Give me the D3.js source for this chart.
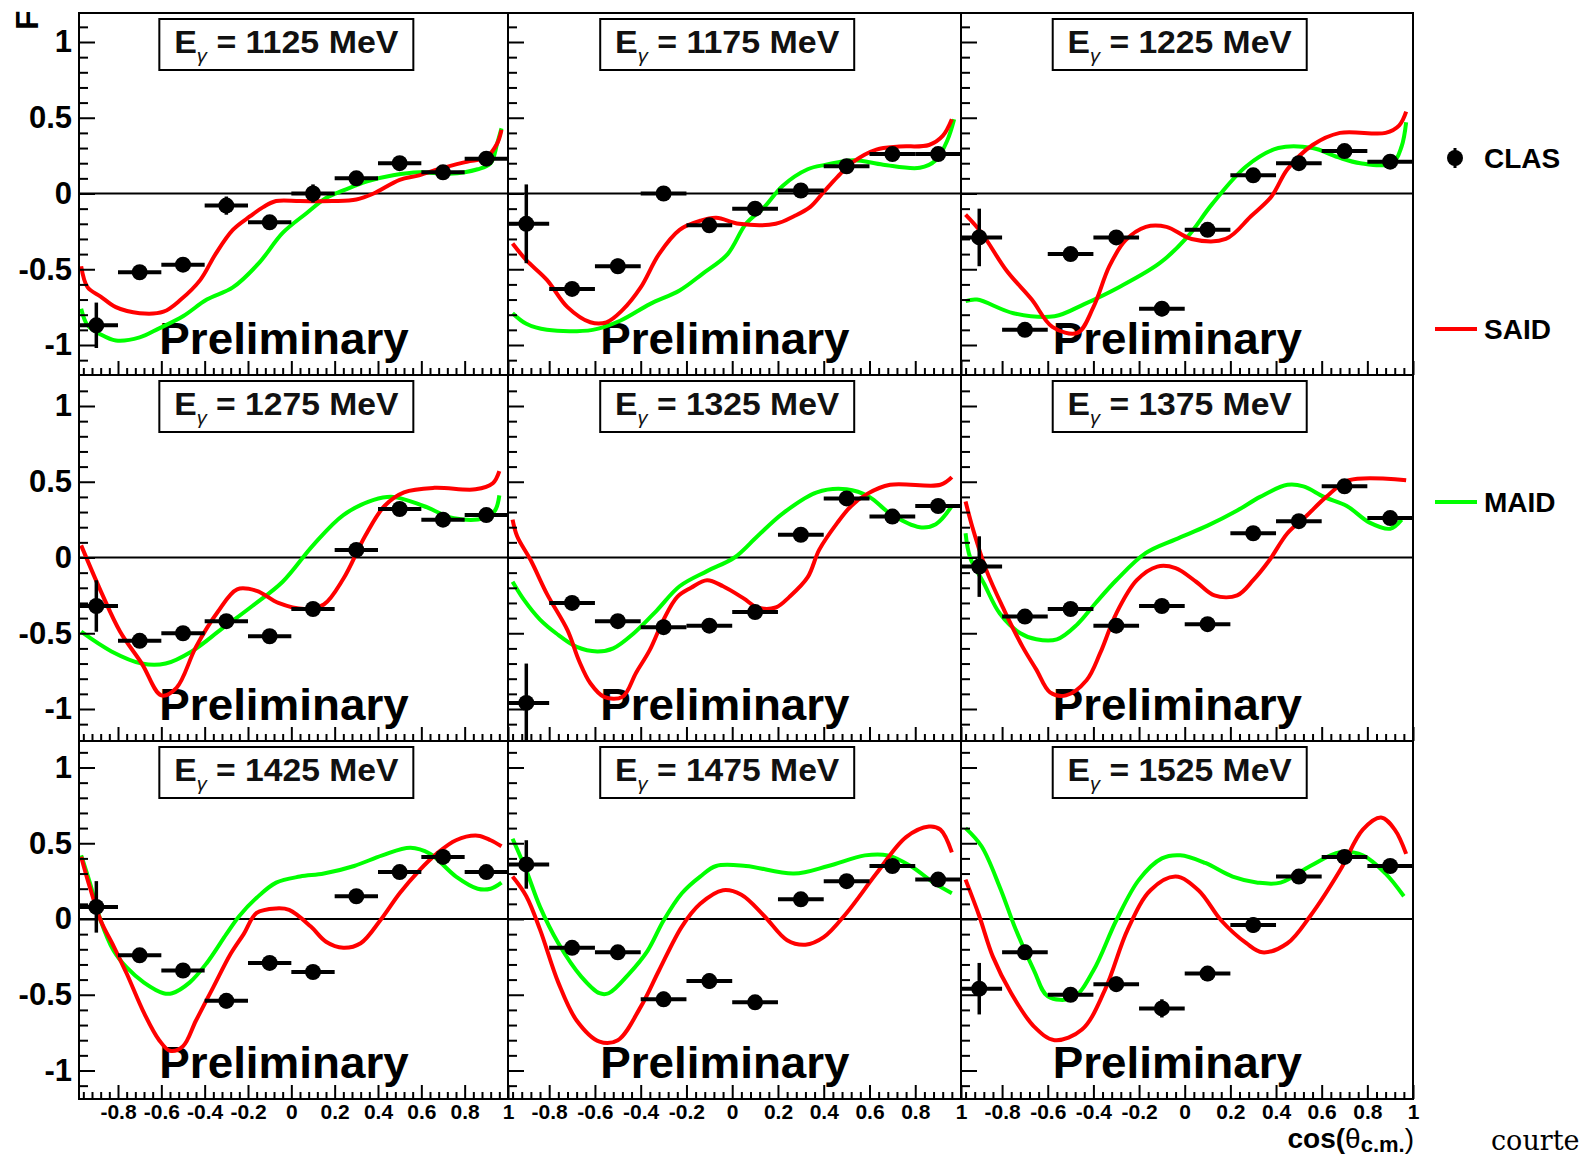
<!DOCTYPE html>
<html>
<head>
<meta charset="utf-8">
<script src="https://cdn.jsdelivr.net/npm/d3@7"></script>
<style>
  body { margin: 0; background: #fff; }
  svg { display: block; font-family: "Liberation Sans", Arial, sans-serif; font-weight: bold; }
</style>
</head>
<body>
<svg></svg>
<script>
// beam energies, one panel each
const energies = [1125, 1175, 1225, 1275, 1325, 1375, 1425, 1475, 1525]

// cos(theta) bin centres of the CLAS points
const binCenters = [-0.9, -0.7, -0.5, -0.3, -0.1, 0.1, 0.3, 0.5, 0.7, 0.9]

// CLAS values per panel
const clasValues = [
    [-0.87, -0.52, -0.47, -0.08, -0.19, 0.0, 0.10, 0.20, 0.14, 0.23],
    [-0.20, -0.63, -0.48, 0.0, -0.21, -0.10, 0.02, 0.18, 0.26, 0.26],
    [-0.29, -0.90, -0.40, -0.29, -0.76, -0.24, 0.12, 0.20, 0.28, 0.21],
    [-0.32, -0.55, -0.50, -0.42, -0.52, -0.34, 0.05, 0.32, 0.25, 0.28],
    [-0.96, -0.30, -0.42, -0.46, -0.45, -0.36, 0.15, 0.39, 0.27, 0.34],
    [-0.06, -0.39, -0.34, -0.45, -0.32, -0.44, 0.16, 0.24, 0.47, 0.26],
    [0.08, -0.24, -0.34, -0.54, -0.29, -0.35, 0.15, 0.31, 0.41, 0.31],
    [0.36, -0.19, -0.22, -0.53, -0.41, -0.55, 0.13, 0.25, 0.35, 0.26],
    [-0.46, -0.22, -0.50, -0.43, -0.59, -0.36, -0.04, 0.28, 0.41, 0.35]
]

// CLAS errors per panel
const clasErrors = [
    [0.15, 0.03, 0.03, 0.06, 0.04, 0.06, 0.03, 0.04, 0.03, 0.03],
    [0.26, 0.03, 0.05, 0.04, 0.03, 0.04, 0.04, 0.04, 0.04, 0.03],
    [0.19, 0.04, 0.04, 0.04, 0.05, 0.04, 0.03, 0.03, 0.03, 0.03],
    [0.17, 0.03, 0.04, 0.03, 0.03, 0.03, 0.03, 0.03, 0.03, 0.03],
    [0.26, 0.04, 0.04, 0.04, 0.03, 0.03, 0.03, 0.04, 0.04, 0.04],
    [0.20, 0.03, 0.04, 0.04, 0.04, 0.03, 0.03, 0.03, 0.04, 0.04],
    [0.17, 0.04, 0.04, 0.05, 0.04, 0.03, 0.03, 0.03, 0.04, 0.04],
    [0.16, 0.03, 0.03, 0.05, 0.05, 0.04, 0.04, 0.04, 0.04, 0.04],
    [0.17, 0.05, 0.04, 0.05, 0.06, 0.05, 0.05, 0.04, 0.04, 0.04]
]

// SAID curves [cos, F]
const saidCurves = [
    [[-0.97,-0.48],[-0.94,-0.62],[-0.88,-0.68],[-0.81,-0.75],[-0.70,-0.79],[-0.59,-0.78],[-0.51,-0.70],[-0.42,-0.57],[-0.35,-0.40],[-0.27,-0.24],[-0.19,-0.15],[-0.13,-0.09],[-0.07,-0.05],[0.04,-0.05],[0.19,-0.05],[0.30,-0.04],[0.38,0.0],[0.50,0.09],[0.59,0.12],[0.70,0.17],[0.81,0.21],[0.90,0.24],[0.95,0.33],[0.97,0.42]],
    [[-0.96,-0.33],[-0.90,-0.44],[-0.81,-0.57],[-0.72,-0.75],[-0.62,-0.85],[-0.55,-0.85],[-0.48,-0.77],[-0.40,-0.62],[-0.32,-0.40],[-0.23,-0.24],[-0.14,-0.18],[-0.07,-0.16],[0.03,-0.20],[0.19,-0.20],[0.27,-0.15],[0.34,-0.09],[0.40,0.01],[0.46,0.11],[0.53,0.21],[0.63,0.29],[0.73,0.31],[0.86,0.32],[0.92,0.38],[0.96,0.49]],
    [[-0.96,-0.14],[-0.89,-0.26],[-0.78,-0.51],[-0.67,-0.70],[-0.58,-0.88],[-0.47,-0.92],[-0.40,-0.75],[-0.33,-0.48],[-0.26,-0.31],[-0.17,-0.22],[-0.08,-0.22],[0.03,-0.30],[0.18,-0.30],[0.29,-0.15],[0.38,-0.02],[0.45,0.16],[0.56,0.32],[0.68,0.40],[0.88,0.40],[0.94,0.45],[0.97,0.54]],
    [[-0.97,0.08],[-0.88,-0.22],[-0.79,-0.49],[-0.69,-0.70],[-0.60,-0.91],[-0.53,-0.86],[-0.44,-0.59],[-0.34,-0.36],[-0.25,-0.21],[-0.16,-0.22],[-0.06,-0.30],[0.06,-0.34],[0.15,-0.31],[0.24,-0.14],[0.34,0.14],[0.43,0.34],[0.52,0.43],[0.66,0.46],[0.85,0.45],[0.93,0.49],[0.96,0.57]],
    [[-0.96,0.25],[-0.94,0.14],[-0.88,-0.02],[-0.81,-0.24],[-0.72,-0.48],[-0.67,-0.68],[-0.62,-0.83],[-0.56,-0.92],[-0.48,-0.92],[-0.42,-0.76],[-0.36,-0.61],[-0.30,-0.41],[-0.24,-0.26],[-0.18,-0.20],[-0.11,-0.15],[-0.04,-0.19],[0.05,-0.27],[0.11,-0.33],[0.19,-0.33],[0.25,-0.26],[0.33,-0.13],[0.38,0.05],[0.46,0.23],[0.52,0.34],[0.59,0.42],[0.69,0.48],[0.91,0.48],[0.96,0.53]],
    [[-0.96,0.37],[-0.93,0.20],[-0.87,-0.08],[-0.79,-0.35],[-0.71,-0.59],[-0.65,-0.74],[-0.59,-0.89],[-0.52,-0.91],[-0.43,-0.81],[-0.37,-0.63],[-0.30,-0.37],[-0.21,-0.15],[-0.12,-0.06],[-0.04,-0.07],[0.05,-0.16],[0.13,-0.25],[0.23,-0.25],[0.30,-0.15],[0.37,-0.02],[0.45,0.16],[0.53,0.27],[0.62,0.40],[0.72,0.51],[0.97,0.51]],
    [[-0.97,0.41],[-0.93,0.21],[-0.88,-0.01],[-0.82,-0.18],[-0.76,-0.36],[-0.68,-0.62],[-0.61,-0.80],[-0.56,-0.87],[-0.50,-0.84],[-0.44,-0.67],[-0.36,-0.45],[-0.28,-0.23],[-0.22,-0.10],[-0.16,0.04],[-0.07,0.07],[-0.01,0.06],[0.09,-0.05],[0.16,-0.15],[0.24,-0.19],[0.32,-0.16],[0.41,-0.01],[0.50,0.17],[0.59,0.32],[0.67,0.43],[0.76,0.52],[0.86,0.55],[0.92,0.52],[0.97,0.48]],
    [[-0.96,0.28],[-0.90,0.15],[-0.84,-0.07],[-0.76,-0.42],[-0.68,-0.67],[-0.58,-0.81],[-0.50,-0.80],[-0.40,-0.58],[-0.32,-0.34],[-0.22,-0.05],[-0.14,0.10],[-0.04,0.19],[0.04,0.16],[0.14,0.02],[0.24,-0.14],[0.32,-0.17],[0.40,-0.12],[0.50,0.04],[0.63,0.30],[0.76,0.54],[0.86,0.61],[0.91,0.59],[0.96,0.44]],
    [[-0.96,0.26],[-0.90,0.02],[-0.84,-0.25],[-0.76,-0.49],[-0.66,-0.71],[-0.57,-0.80],[-0.45,-0.73],[-0.35,-0.47],[-0.25,-0.07],[-0.15,0.19],[-0.04,0.28],[0.06,0.19],[0.16,-0.01],[0.27,-0.16],[0.34,-0.22],[0.45,-0.16],[0.55,0.02],[0.68,0.32],[0.78,0.59],[0.86,0.67],[0.92,0.59],[0.97,0.43]]
]

// MAID curves [cos, F]
const maidCurves = [
    [[-0.97,-0.76],[-0.94,-0.87],[-0.88,-0.93],[-0.81,-0.97],[-0.70,-0.95],[-0.61,-0.89],[-0.50,-0.81],[-0.39,-0.70],[-0.27,-0.62],[-0.15,-0.46],[-0.04,-0.26],[0.07,-0.13],[0.16,-0.03],[0.24,0.02],[0.35,0.08],[0.47,0.12],[0.59,0.14],[0.73,0.13],[0.86,0.16],[0.92,0.20],[0.95,0.33],[0.97,0.43]],
    [[-0.96,-0.79],[-0.90,-0.86],[-0.81,-0.90],[-0.61,-0.90],[-0.49,-0.84],[-0.36,-0.73],[-0.23,-0.64],[-0.13,-0.53],[-0.02,-0.40],[0.06,-0.20],[0.14,-0.09],[0.22,0.05],[0.33,0.16],[0.41,0.19],[0.53,0.22],[0.66,0.19],[0.82,0.17],[0.89,0.22],[0.94,0.35],[0.97,0.49]],
    [[-0.96,-0.71],[-0.91,-0.70],[-0.75,-0.79],[-0.57,-0.81],[-0.44,-0.73],[-0.29,-0.62],[-0.11,-0.46],[0.01,-0.29],[0.12,-0.07],[0.27,0.18],[0.41,0.30],[0.56,0.30],[0.67,0.24],[0.77,0.20],[0.91,0.20],[0.95,0.31],[0.97,0.47]],
    [[-0.97,-0.49],[-0.83,-0.62],[-0.69,-0.70],[-0.58,-0.70],[-0.46,-0.62],[-0.32,-0.47],[-0.18,-0.32],[-0.04,-0.16],[0.10,0.08],[0.24,0.28],[0.38,0.38],[0.47,0.40],[0.61,0.34],[0.75,0.26],[0.89,0.26],[0.94,0.31],[0.96,0.41]],
    [[-0.96,-0.16],[-0.91,-0.28],[-0.84,-0.41],[-0.77,-0.50],[-0.68,-0.59],[-0.59,-0.62],[-0.52,-0.60],[-0.43,-0.50],[-0.33,-0.35],[-0.23,-0.19],[-0.11,-0.09],[0.01,0.0],[0.11,0.14],[0.22,0.29],[0.37,0.43],[0.50,0.45],[0.60,0.40],[0.69,0.29],[0.82,0.20],[0.89,0.22],[0.96,0.34]],
    [[-0.96,0.16],[-0.94,0.0],[-0.88,-0.17],[-0.81,-0.37],[-0.72,-0.50],[-0.65,-0.54],[-0.56,-0.54],[-0.47,-0.44],[-0.39,-0.30],[-0.30,-0.15],[-0.17,0.03],[-0.04,0.12],[0.10,0.21],[0.23,0.31],[0.33,0.40],[0.45,0.48],[0.52,0.47],[0.61,0.40],[0.71,0.34],[0.81,0.23],[0.90,0.19],[0.95,0.25]],
    [[-0.97,0.42],[-0.93,0.24],[-0.88,-0.01],[-0.82,-0.21],[-0.76,-0.32],[-0.68,-0.42],[-0.59,-0.49],[-0.55,-0.49],[-0.47,-0.42],[-0.39,-0.29],[-0.30,-0.10],[-0.24,0.02],[-0.16,0.14],[-0.07,0.24],[0.04,0.28],[0.15,0.30],[0.29,0.35],[0.42,0.42],[0.55,0.47],[0.64,0.43],[0.76,0.28],[0.86,0.20],[0.92,0.20],[0.97,0.24]],
    [[-0.96,0.53],[-0.90,0.32],[-0.84,0.08],[-0.76,-0.16],[-0.66,-0.38],[-0.58,-0.49],[-0.54,-0.49],[-0.45,-0.36],[-0.37,-0.21],[-0.30,-0.01],[-0.22,0.17],[-0.14,0.28],[-0.07,0.35],[0.06,0.35],[0.27,0.30],[0.42,0.35],[0.58,0.42],[0.68,0.42],[0.78,0.35],[0.88,0.24],[0.96,0.17]],
    [[-0.96,0.60],[-0.89,0.48],[-0.81,0.21],[-0.74,-0.07],[-0.66,-0.34],[-0.60,-0.51],[-0.49,-0.52],[-0.40,-0.34],[-0.30,-0.01],[-0.20,0.26],[-0.10,0.40],[-0.02,0.42],[0.09,0.37],[0.21,0.28],[0.32,0.24],[0.42,0.24],[0.55,0.35],[0.68,0.44],[0.78,0.42],[0.88,0.30],[0.96,0.15]]
]

// tick labels
const xTickValues = [-0.8, -0.6, -0.4, -0.2, 0, 0.2, 0.4, 0.6, 0.8, 1]
const xTickLabels = ['-0.8', '-0.6', '-0.4', '-0.2', '0', '0.2', '0.4', '0.6', '0.8', '1']
const yTickValues = [-1, -0.5, 0, 0.5, 1]
const yTickLabels = ['-1', '-0.5', '0', '0.5', '1']

const legendNames = ['CLAS', 'SAID', 'MAID']

// layout
const width = 1585
const height = 1158
const xDomain = [-0.98, 1]
const colLeft = [79, 508, 961]
const colRight = [508, 961, 1413]
const rowTop = [13, 375, 741]
const rowBottom = [375, 741, 1099]
const rowZero = [193.5, 557.5, 919]
const yUnit = 151.5
const red = '#ff0000'
const green = '#00ff00'

let svg = d3.select('svg')

function drawCanvas() {
    svg.attr('width', width).attr('height', height)
    svg.append('rect').attr('width', width).attr('height', height).attr('fill', '#fff')
}

// squeeze / stretch a text horizontally to the width seen in the picture
function fitWidth(sel, w, ax) {
    let bw = sel.node().getBBox().width
    let k = w / bw
    sel.attr('transform', `translate(${ax},0) scale(${k},1) translate(${-ax},0)`)
}

function styleAxis(g, fontSize) {
    g.select('.domain').remove()
    g.selectAll('line').attr('stroke', '#000').attr('stroke-width', 2)
    g.attr('font-family', '"Liberation Sans", Arial, sans-serif')
     .attr('font-size', fontSize)
     .attr('font-weight', 'bold')
    g.selectAll('text').attr('fill', '#000')
}

function drawPanel(i) {
    let r = Math.floor(i / 3)
    let c = i % 3
    let xScale = d3.scaleLinear().domain(xDomain).range([colLeft[c], colRight[c]])
    let yScale = d3.scaleLinear().domain([-1, 1]).range([rowZero[r] + yUnit, rowZero[r] - yUnit])

    let g = svg.append('g')
    let clipId = 'clip' + i
    g.append('clipPath').attr('id', clipId)
        .append('rect')
        .attr('x', colLeft[c]).attr('y', rowTop[r])
        .attr('width', colRight[c] - colLeft[c])
        .attr('height', rowBottom[r] - rowTop[r])

    let inner = g.append('g').attr('clip-path', `url(#${clipId})`)

    // watermark
    let prelim = inner.append('text')
        .attr('x', xScale(0) - 132)
        .attr('y', rowBottom[r] - 21)
        .attr('font-size', 44)
        .attr('fill', '#000')
        .text('Preliminary')
    fitWidth(prelim, 250, xScale(0) - 132)

    // zero line
    inner.append('line')
        .attr('x1', colLeft[c]).attr('x2', colRight[c])
        .attr('y1', yScale(0)).attr('y2', yScale(0))
        .attr('stroke', '#000').attr('stroke-width', 1.8)

    let line = d3.line()
        .x(d => xScale(d[0]))
        .y(d => yScale(d[1]))
        .curve(d3.curveCatmullRom)

    inner.append('path').datum(maidCurves[i])
        .attr('d', line).attr('fill', 'none')
        .attr('stroke', green).attr('stroke-width', 4)
    inner.append('path').datum(saidCurves[i])
        .attr('d', line).attr('fill', 'none')
        .attr('stroke', red).attr('stroke-width', 4)

    let pts = binCenters.map((b, k) => ({ x: b, v: clasValues[i][k], e: clasErrors[i][k] }))

    inner.selectAll('.ex').data(pts).enter().append('line')
        .attr('class', 'ex')
        .attr('x1', d => xScale(d.x - 0.1)).attr('x2', d => xScale(d.x + 0.1))
        .attr('y1', d => yScale(d.v)).attr('y2', d => yScale(d.v))
        .attr('stroke', '#000').attr('stroke-width', 4)
    inner.selectAll('.ey').data(pts).enter().append('line')
        .attr('class', 'ey')
        .attr('x1', d => xScale(d.x)).attr('x2', d => xScale(d.x))
        .attr('y1', d => yScale(d.v - d.e)).attr('y2', d => yScale(d.v + d.e))
        .attr('stroke', '#000').attr('stroke-width', 3.5)
    inner.selectAll('circle').data(pts).enter().append('circle')
        .attr('cx', d => xScale(d.x)).attr('cy', d => yScale(d.v))
        .attr('r', 8).attr('fill', '#000')

    // axes, ticks pointing into the frame
    let yMinor = d3.range(-11, 12).map(k => k / 10).filter(v => Math.abs(v * 2 - Math.round(v * 2)) > 1e-6)
    let xMinor = d3.range(-24, 26).map(k => k / 25).filter(v => Math.abs(v * 5 - Math.round(v * 5)) > 1e-6)

    g.append('g')
        .attr('transform', `translate(${colLeft[c]},0)`)
        .call(d3.axisLeft(yScale).tickValues(yMinor).tickSizeInner(-9).tickSizeOuter(0).tickFormat(''))
        .call(a => styleAxis(a, 31))
    g.append('g')
        .attr('transform', `translate(${colLeft[c]},0)`)
        .call(d3.axisLeft(yScale).tickValues(yTickValues).tickSizeInner(-16).tickSizeOuter(0).tickPadding(7)
            .tickFormat((d, k) => c === 0 ? yTickLabels[k] : ''))
        .call(a => styleAxis(a, 31))

    g.append('g')
        .attr('transform', `translate(0,${rowBottom[r]})`)
        .call(d3.axisBottom(xScale).tickValues(xMinor).tickSizeInner(-7).tickSizeOuter(0).tickFormat(''))
        .call(a => styleAxis(a, 21))
    g.append('g')
        .attr('transform', `translate(0,${rowBottom[r]})`)
        .call(d3.axisBottom(xScale).tickValues(xTickValues).tickSizeInner(-14).tickSizeOuter(0).tickPadding(5)
            .tickFormat((d, k) => r === 2 ? xTickLabels[k] : ''))
        .call(a => styleAxis(a, 21))

    // frame
    g.append('rect')
        .attr('x', colLeft[c]).attr('y', rowTop[r])
        .attr('width', colRight[c] - colLeft[c])
        .attr('height', rowBottom[r] - rowTop[r])
        .attr('fill', 'none').attr('stroke', '#000').attr('stroke-width', 2)

    // energy box
    let bx = xScale(0) - 5
    g.append('rect')
        .attr('x', bx - 127).attr('y', rowTop[r] + 6)
        .attr('width', 254).attr('height', 51)
        .attr('fill', '#fff').attr('stroke', '#000').attr('stroke-width', 2)
    let title = g.append('text')
        .attr('x', bx).attr('y', rowTop[r] + 40)
        .attr('text-anchor', 'middle')
        .attr('font-size', 32)
        .attr('fill', '#111')
    title.append('tspan').text('E')
    title.append('tspan')
        .attr('font-size', 19).attr('font-style', 'italic').attr('font-weight', 'normal')
        .attr('dy', 9).text('γ')
    title.append('tspan').attr('dy', -9).text(' = ' + energies[i] + ' MeV')
    fitWidth(title, 225, bx)
}

function drawLegend() {
    let lg = svg.append('g')
    let rowsY = [158, 329, 502]
    lg.append('line')
        .attr('x1', 1455).attr('x2', 1455).attr('y1', rowsY[0] - 10).attr('y2', rowsY[0] + 10)
        .attr('stroke', '#000').attr('stroke-width', 3)
    lg.append('circle').attr('cx', 1455).attr('cy', rowsY[0]).attr('r', 8).attr('fill', '#000')
    lg.append('line').attr('x1', 1435).attr('x2', 1477).attr('y1', rowsY[1]).attr('y2', rowsY[1])
        .attr('stroke', red).attr('stroke-width', 4)
    lg.append('line').attr('x1', 1435).attr('x2', 1477).attr('y1', rowsY[2]).attr('y2', rowsY[2])
        .attr('stroke', green).attr('stroke-width', 4)
    lg.selectAll('text').data(legendNames).enter().append('text')
        .attr('x', 1484).attr('y', (d, k) => rowsY[k] + 10)
        .attr('font-size', 28).attr('fill', '#000')
        .text(d => d)
}

function drawTitles() {
    // y title, clipped at the top like the original
    svg.append('text')
        .attr('transform', 'translate(38,30) rotate(-90)')
        .attr('font-size', 32).attr('fill', '#000')
        .text('F')

    let xt = svg.append('text')
        .attr('x', 1414).attr('y', 1148)
        .attr('text-anchor', 'end')
        .attr('font-size', 28).attr('fill', '#000')
    xt.append('tspan').text('cos(')
    xt.append('tspan').attr('font-weight', 'normal').text('θ')
    xt.append('tspan').attr('font-size', 22).attr('dy', 4).text('c.m.')
    xt.append('tspan').attr('dy', -4).attr('font-weight', 'normal').text(')')

    // credit line, only its start is visible in the picture
    svg.append('text')
        .attr('x', 1491).attr('y', 1150)
        .attr('font-family', '"DejaVu Serif", serif')
        .attr('font-weight', 'normal')
        .attr('font-size', 27).attr('fill', '#000')
        .text('courte')
}

function main() {
    drawCanvas()
    for (let i = 0; i < energies.length; i++) drawPanel(i)
    drawLegend()
    drawTitles()
}

main()
</script>
</body>
</html>
